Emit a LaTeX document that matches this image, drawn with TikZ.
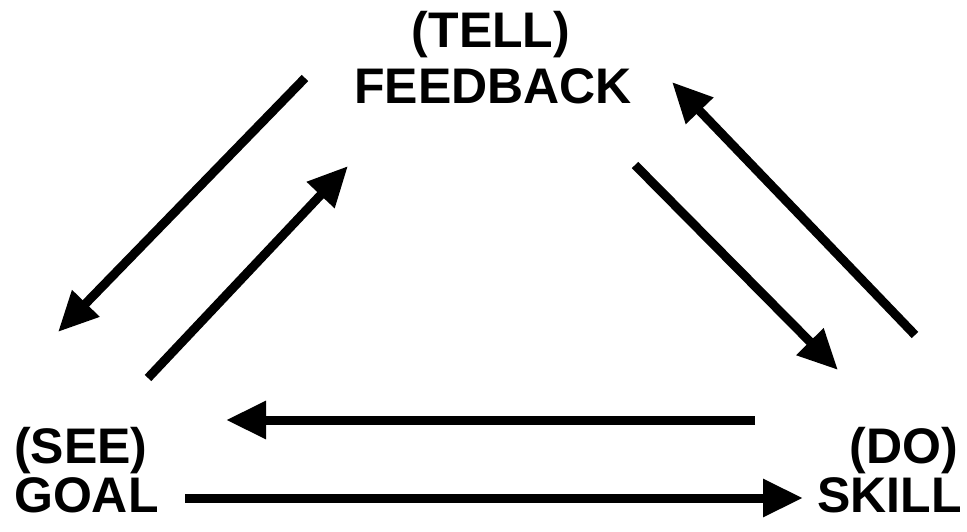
\documentclass[tikz,border=0pt]{standalone}
\usepackage{fontspec}
\setmainfont{Liberation Sans}
\usetikzlibrary{arrows.meta}

\begin{document}
\begin{tikzpicture}[x=1pt,y=-1pt,
  lbl/.style={font=\fontsize{50}{54}\selectfont\bfseries,inner sep=0pt},
  arr/.style={-{Triangle[length=40pt,width=36pt]},line width=9pt},
]
\useasboundingbox (0,0) rectangle (967,531);
% labels
\node[lbl,anchor=base] (tell) at (491,47) {(TELL)};
\node[lbl,anchor=base] (feedback) at (493,103) {FEEDBACK};
\node[lbl,anchor=base west] (see) at (14,463) {(SEE)};
\node[lbl,anchor=base west] (goal) at (14,512) {GOAL};
\node[lbl,anchor=base east] (do) at (958,463) {(DO)};
\node[lbl,anchor=base east] (skill) at (962,512) {SKILL};
% arrow ends
\coordinate (fbL1) at (305,78);
\coordinate (gL1) at (58,332);
\coordinate (gL2) at (148,378);
\coordinate (fbL2) at (348,166);
\coordinate (fbR1) at (635,165);
\coordinate (sR1) at (838,370);
\coordinate (sR2) at (915,335);
\coordinate (fbR2) at (672,82);
\coordinate (sB1) at (755,420);
\coordinate (gB1) at (226,420);
\coordinate (gB2) at (185,498);
\coordinate (sB2) at (803,498);
% arrows
\draw[arr] (fbL1) -- (gL1);
\draw[arr] (gL2) -- (fbL2);
\draw[arr] (fbR1) -- (sR1);
\draw[arr] (sR2) -- (fbR2);
\draw[arr] (sB1) -- (gB1);
\draw[arr] (gB2) -- (sB2);
\end{tikzpicture}
\end{document}
